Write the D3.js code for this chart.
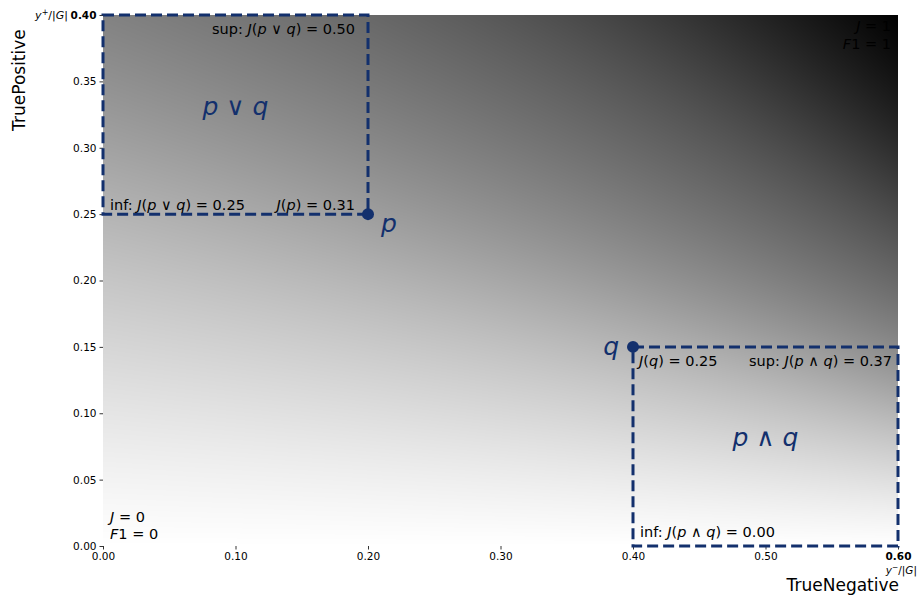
<!DOCTYPE html>
<html>
<head>
<meta charset="utf-8"/>
<script src="https://cdnjs.cloudflare.com/ajax/libs/d3/7.8.5/d3.min.js"></script>
<style>
  body { margin: 0; background: #fff; }
  text { font-family: "DejaVu Sans", sans-serif; }
</style>
</head>
<body>
<script>
// share of positives / negatives in G
const posShare = 0.4, negShare = 0.6;
const xTicks = [0, 0.1, 0.2, 0.3, 0.4, 0.5, 0.6];
const yTicks = [0, 0.05, 0.1, 0.15, 0.2, 0.25, 0.3, 0.35, 0.4];

const points = [
  {name: "p", tn: 0.2, tp: 0.25},
  {name: "q", tn: 0.4, tp: 0.15}
];
const boxes = [
  {name: "p ∨ q", tn0: 0.0, tn1: 0.2, tp0: 0.25, tp1: 0.4},
  {name: "p ∧ q", tn0: 0.4, tn1: 0.6, tp0: 0.0, tp1: 0.15}
];
// label text, anchor point (tn, tp), alignment
const notes = [
  {t: "sup: $J(p ∨ q) = 0.50$", tn: 0.2, tp: 0.4, a: "end", dx: -13, dy: 19},
  {t: "inf: $J(p ∨ q) = 0.25$", tn: 0.0, tp: 0.25, a: "start", dx: 7, dy: -4},
  {t: "$J(p) = 0.31$", tn: 0.2, tp: 0.25, a: "end", dx: -13, dy: -4},
  {t: "$J(q) = 0.25$", tn: 0.4, tp: 0.15, a: "start", dx: 6, dy: 19},
  {t: "sup: $J(p ∧ q) = 0.37$", tn: 0.6, tp: 0.15, a: "end", dx: -6, dy: 19},
  {t: "inf: $J(p ∧ q) = 0.00$", tn: 0.4, tp: 0.0, a: "start", dx: 7, dy: -9},
  {t: "$J = 0$", tn: 0.0, tp: 0.0, a: "start", dx: 7, dy: -24},
  {t: "$F1 = 0$", tn: 0.0, tp: 0.0, a: "start", dx: 7, dy: -7},
  {t: "$J = 1$", tn: 0.6, tp: 0.4, a: "end", dx: -7, dy: 16},
  {t: "$F1 = 1$", tn: 0.6, tp: 0.4, a: "end", dx: -7, dy: 34}
];

const W = 917, H = 596;
const m = {l: 103, r: 19, t: 15, b: 50};
const x = d3.scaleLinear().domain([0, negShare]).range([m.l, W - m.r]);
const y = d3.scaleLinear().domain([0, posShare]).range([H - m.b, m.t]);
const navy = "#13306d";

const svg = d3.select("body").append("svg").attr("width", W).attr("height", H);

// background: F1 of (tn, tp) on a Greys map
const pw = Math.round(x(negShare) - x(0)), ph = Math.round(y(0) - y(posShare));
const cv = document.createElement("canvas");
cv.width = pw; cv.height = ph;
const ctx = cv.getContext("2d");
const img = ctx.createImageData(pw, ph);
for (let j = 0; j < ph; j++) {
  const tp = y.invert(m.t + j + 0.5);
  for (let i = 0; i < pw; i++) {
    const tn = x.invert(m.l + i + 0.5);
    const fp = negShare - tn, fn = posShare - tp;
    const f1 = 2 * tp / (2 * tp + fp + fn);
    const c = d3.rgb(d3.interpolateGreys(f1));
    const k = (j * pw + i) * 4;
    img.data[k] = c.r; img.data[k + 1] = c.g; img.data[k + 2] = c.b; img.data[k + 3] = 255;
  }
}
ctx.putImageData(img, 0, 0);
svg.append("image").attr("x", x(0)).attr("y", y(posShare))
  .attr("width", pw).attr("height", ph)
  .attr("preserveAspectRatio", "none")
  .attr("href", cv.toDataURL());

// axes
const fmt = d3.format(".2f");
const xAxis = svg.append("g").attr("transform", `translate(0,${y(0)})`)
  .call(d3.axisBottom(x).tickValues(xTicks).tickFormat(fmt).tickSize(3.5).tickPadding(3));
const yAxis = svg.append("g").attr("transform", `translate(${x(0)},0)`)
  .call(d3.axisLeft(y).tickValues(yTicks).tickFormat(fmt).tickSize(3.5).tickPadding(3));
[xAxis, yAxis].forEach(g => {
  g.select(".domain").remove();
  g.selectAll("text").attr("font-size", 10.5).attr("fill", "#000")
    .style("font-family", "DejaVu Sans");
  g.selectAll("line").attr("stroke", "#000").attr("stroke-width", 0.8);
});
xAxis.selectAll(".tick").filter(d => d === negShare).select("text").attr("font-weight", "bold");
yAxis.selectAll(".tick").filter(d => d === posShare).select("text").attr("font-weight", "bold");

// y+/|G| and y-/|G| marks
const yMark = svg.append("text").attr("x", x(0) - 35).attr("y", y(posShare) + 3.5)
  .attr("text-anchor", "end").attr("font-size", 11);
yMark.append("tspan").attr("font-style", "italic").text("y");
yMark.append("tspan").attr("font-size", 8).attr("dy", -4).text("+");
yMark.append("tspan").attr("dy", 4).text("/|");
yMark.append("tspan").attr("font-style", "italic").text("G");
yMark.append("tspan").text("|");
const xMark = svg.append("text").attr("x", x(negShare) + 19).attr("y", y(0) + 28)
  .attr("text-anchor", "end").attr("font-size", 10.5);
xMark.append("tspan").attr("font-style", "italic").text("y");
xMark.append("tspan").attr("font-size", 7.5).attr("dy", -4).text("−");
xMark.append("tspan").attr("dy", 4).text("/|");
xMark.append("tspan").attr("font-style", "italic").text("G");
xMark.append("tspan").text("|");

svg.append("text").attr("transform", `translate(25,${y(0.351)}) rotate(-90)`)
  .attr("text-anchor", "middle").attr("font-size", 17).text("TruePositive");
svg.append("text").attr("x", 899).attr("y", 591)
  .attr("text-anchor", "end").attr("font-size", 17).text("TrueNegative");

// dashed boxes
svg.selectAll("rect.box").data(boxes).join("rect").attr("class", "box")
  .attr("x", d => x(d.tn0)).attr("y", d => y(d.tp1))
  .attr("width", d => x(d.tn1) - x(d.tn0)).attr("height", d => y(d.tp0) - y(d.tp1))
  .attr("fill", "none").attr("stroke", navy).attr("stroke-width", 3)
  .attr("stroke-dasharray", "11,5");

// math-ish text: letters inside $...$ are italic
function mathText(sel, s) {
  s.split("$").forEach((part, i) => {
    if (i % 2 === 0) { if (part) sel.append("tspan").text(part); return; }
    part.split(/([A-Za-z])/).forEach(p => {
      if (!p) return;
      const t = sel.append("tspan").text(p);
      if (/^[A-Za-z]$/.test(p)) t.attr("font-style", "italic");
    });
  });
}

svg.selectAll("text.box-name").data(boxes).join("text").attr("class", "box-name")
  .attr("x", d => x((d.tn0 + d.tn1) / 2)).attr("y", d => y((d.tp0 + d.tp1) / 2))
  .attr("text-anchor", "middle").attr("font-size", 25).attr("fill", navy)
  .each(function(d) { mathText(d3.select(this), "$" + d.name + "$"); });

svg.selectAll("text.note").data(notes).join("text").attr("class", "note")
  .attr("x", d => x(d.tn) + d.dx).attr("y", d => y(d.tp) + d.dy)
  .attr("text-anchor", d => d.a).attr("font-size", 14.5).attr("fill", "#000")
  .each(function(d) { mathText(d3.select(this), d.t); });

// points
svg.selectAll("circle.pt").data(points).join("circle").attr("class", "pt")
  .attr("cx", d => x(d.tn)).attr("cy", d => y(d.tp)).attr("r", 6).attr("fill", navy);
svg.selectAll("text.pt-name").data(points).join("text").attr("class", "pt-name")
  .attr("x", d => d.name === "p" ? x(d.tn) + 13 : x(d.tn) - 14)
  .attr("y", d => d.name === "p" ? y(d.tp) + 18 : y(d.tp) + 8)
  .attr("text-anchor", d => d.name === "p" ? "start" : "end")
  .attr("font-size", 25).attr("font-style", "italic").attr("fill", navy)
  .text(d => d.name);
</script>
</body>
</html>
